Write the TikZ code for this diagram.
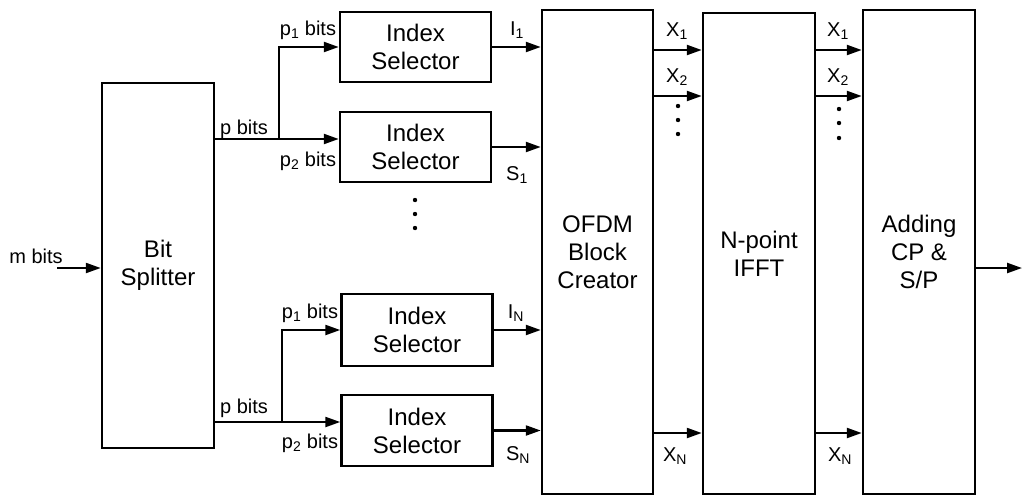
\documentclass[tikz,border=0pt]{standalone}
\usepackage{fontspec}
\setmainfont{Liberation Sans}
\usetikzlibrary{arrows.meta}
\begin{document}
\begin{tikzpicture}[x=1pt,y=-1pt,
  blk/.style={draw, line width=2.5pt, inner sep=0pt, align=center, font=\fontsize{24}{28}\selectfont},
  lbl/.style={font=\fontsize{20}{22}\selectfont, inner sep=0pt},
  wire/.style={line width=2.3pt},
  arr/.style={-{Triangle[length=15pt,width=10pt]}, line width=2.3pt},
  dot/.style={fill=black}]
\useasboundingbox (0,0) rectangle (1024,496);
% blocks
\node[blk, minimum width=112pt, minimum height=365pt] (bs) at (158,265.5) {Bit\\Splitter};
\node[blk, minimum width=151pt, minimum height=70pt] (is1) at (415.5,47) {Index\\Selector};
\node[blk, minimum width=151pt, minimum height=70pt] (is2) at (415.5,147) {Index\\Selector};
\node[blk, minimum width=151pt, minimum height=72pt] (is3) at (417,330) {Index\\Selector};
\node[blk, minimum width=151pt, minimum height=71pt] (is4) at (417,430.5) {Index\\Selector};
\node[blk, minimum width=111pt, minimum height=484pt] (ofdm) at (597.5,252) {OFDM\\Block\\Creator};
\node[blk, minimum width=112pt, minimum height=481pt] (ifft) at (759,253.5) {N-point\\IFFT};
\node[blk, minimum width=112pt, minimum height=484pt] (add) at (919,252) {Adding\\CP \&\\S/P};
% input
\coordinate (min) at (57,268);
\node[lbl] (mlbl) at (36,256) {m bits};
\draw[arr] (min) -- (min -| bs.west);
% upper branch
\coordinate (j1) at (279,139);
\draw[wire] (j1 -| bs.east) -- (j1);
\draw[arr] (j1) |- (is1.west);
\draw[arr] (j1) -- (j1 -| is2.west);
\node[lbl] (pb1) at (244,129) {p bits};
\node[lbl] (p11) at (308,30) {p\textsubscript{1} bits};
\node[lbl] (p21) at (308,161) {p\textsubscript{2} bits};
% lower branch
\coordinate (j2) at (282,422);
\draw[wire] (j2 -| bs.east) -- (j2);
\draw[arr] (j2) |- (is3.west);
\draw[arr] (j2) -- (j2 -| is4.west);
\node[lbl] (pb2) at (244,408) {p bits};
\node[lbl] (p12) at (310,313) {p\textsubscript{1} bits};
\node[lbl] (p22) at (310,443) {p\textsubscript{2} bits};
% dots between selectors
\fill[dot] (415,200) circle (2.2pt) (415,214) circle (2.2pt) (415,228) circle (2.2pt);
% selector outputs
\draw[arr] (is1.east) -- (is1.east -| ofdm.west);
\draw[arr] (is2.east) -- (is2.east -| ofdm.west);
\draw[arr] (is3.east) -- (is3.east -| ofdm.west);
\draw[arr] (is4.east) -- (is4.east -| ofdm.west);
\node[lbl] (li1) at (517,30) {I\textsubscript{1}};
\node[lbl] (ls1) at (517,175) {S\textsubscript{1}};
\node[lbl] (lin) at (516,313) {I\textsubscript{N}};
\node[lbl] (lsn) at (518,455) {S\textsubscript{N}};
% X lines
\coordinate (r1) at (0,50);
\coordinate (r2) at (0,96);
\coordinate (rn) at (0,433);
\draw[arr] (ofdm.east |- r1) -- (ifft.west |- r1);
\draw[arr] (ofdm.east |- r2) -- (ifft.west |- r2);
\draw[arr] (ofdm.east |- rn) -- (ifft.west |- rn);
\draw[arr] (ifft.east |- r1) -- (add.west |- r1);
\draw[arr] (ifft.east |- r2) -- (add.west |- r2);
\draw[arr] (ifft.east |- rn) -- (add.west |- rn);
\node[lbl] (lx1a) at (677,31) {X\textsubscript{1}};
\node[lbl] (lx2a) at (677,77) {X\textsubscript{2}};
\node[lbl] (lxna) at (675,456) {X\textsubscript{N}};
\node[lbl] (lx1b) at (838,31) {X\textsubscript{1}};
\node[lbl] (lx2b) at (838,77) {X\textsubscript{2}};
\node[lbl] (lxnb) at (840,456) {X\textsubscript{N}};
\fill[dot] (678,106) circle (2.2pt) (678,120) circle (2.2pt) (678,134) circle (2.2pt);
\fill[dot] (839,109) circle (2.2pt) (839,123) circle (2.2pt) (839,138) circle (2.2pt);
% output
\coordinate (out) at (1022,268);
\draw[arr] (add.east |- out) -- (out);
\end{tikzpicture}
\end{document}
